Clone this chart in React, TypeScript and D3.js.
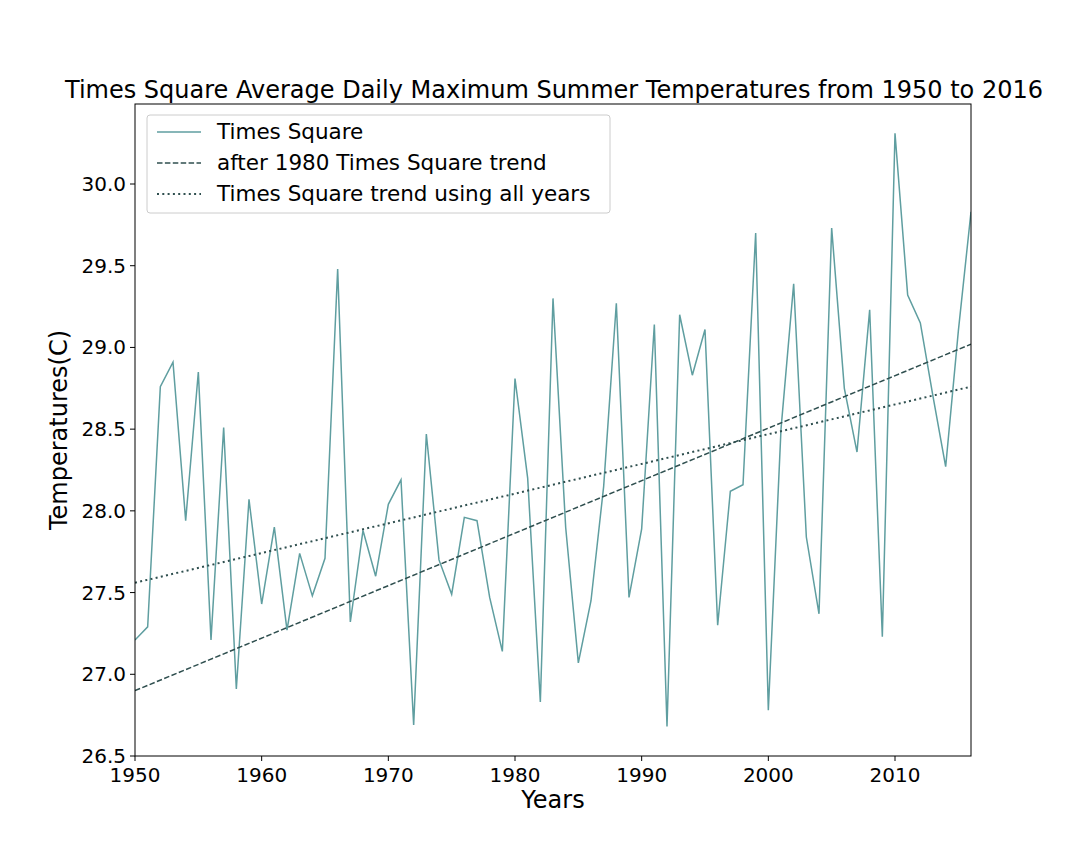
import React from "react";
import * as d3 from "d3";

const years = d3.range(1950, 2017);
const temps = [27.21,27.29,28.76,28.91,27.94,28.85,27.21,28.51,26.91,28.07,27.43,27.90,27.27,27.74,27.48,27.71,29.48,27.32,27.88,27.60,28.04,28.19,26.69,28.47,27.70,27.49,27.96,27.94,27.47,27.14,28.81,28.20,26.83,29.30,27.90,27.07,27.45,28.15,29.27,27.47,27.89,29.14,26.68,29.20,28.83,29.11,27.30,28.12,28.16,29.70,26.78,28.50,29.39,27.84,27.37,29.73,28.75,28.36,29.23,27.23,30.31,29.32,29.15,28.70,28.27,29.10,29.83];
const trendYears = [1950, 2016];
const trendAfter1980 = [26.90, 29.02];
const trendAll = [27.56, 28.76];
const xTicks = [1950, 1960, 1970, 1980, 1990, 2000, 2010];
const yTicks = [26.5, 27.0, 27.5, 28.0, 28.5, 29.0, 29.5, 30.0];

export default function App() {
  const L = 135, R = 971, T = 104, B = 756;
  const x = d3.scaleLinear().domain([1950, 2016]).range([L, R]);
  const y = d3.scaleLinear().domain([26.5, 30.0]).range([B, 184]);
  const line = d3.line<number>().x((_, i) => x(years[i])).y(d => y(d));
  const tline = (vals: number[]) => `M${x(trendYears[0])},${y(vals[0])}L${x(trendYears[1])},${y(vals[1])}`;
  const font = "DejaVu Sans, sans-serif";
  return (
    <svg width={1080} height={864} style={{ position: "absolute", left: 0, top: 0, background: "#fff" }} fontFamily={font}>
      <rect width={1080} height={864} fill="#fff" />
      <defs><clipPath id="c"><rect x={L} y={T} width={R - L} height={B - T} /></clipPath></defs>
      <g clipPath="url(#c)">
        <path d={line(temps)!} fill="none" stroke="#5f9ea0" strokeWidth={1.5} />
        <path d={tline(trendAfter1980)} fill="none" stroke="#2f4f4f" strokeWidth={1.5} strokeDasharray="5.5,2.4" />
        <path d={tline(trendAll)} fill="none" stroke="#2f4f4f" strokeWidth={2} strokeDasharray="2,3.3" />
      </g>
      <rect x={L} y={T} width={R - L} height={B - T} fill="none" stroke="#000" strokeWidth={1} />
      {xTicks.map(t => (
        <g key={t}>
          <line x1={x(t)} x2={x(t)} y1={B} y2={B + 5} stroke="#000" />
          <text x={x(t)} y={B + 26} fontSize={20} textAnchor="middle">{t}</text>
        </g>
      ))}
      {yTicks.map(t => (
        <g key={t}>
          <line x1={L - 5} x2={L} y1={y(t)} y2={y(t)} stroke="#000" />
          <text x={L - 9} y={y(t) + 7} fontSize={20} textAnchor="end">{t.toFixed(1)}</text>
        </g>
      ))}
      <text x={554} y={98} fontSize={24} textAnchor="middle">Times Square Average Daily Maximum Summer Temperatures from 1950 to 2016</text>
      <text x={(L + R) / 2} y={808} fontSize={24} textAnchor="middle">Years</text>
      <text transform={`translate(67,${(T + B) / 2}) rotate(-90)`} fontSize={24} textAnchor="middle">Temperatures(C)</text>
      <rect x={147} y={115} width={463} height={98} rx={3} fill="#fff" fillOpacity={0.8} stroke="#ccc" />
      {[
        { label: "Times Square", color: "#5f9ea0", dash: "", w: 1.5 },
        { label: "after 1980 Times Square trend", color: "#2f4f4f", dash: "5.5,2.4", w: 1.5 },
        { label: "Times Square trend using all years", color: "#2f4f4f", dash: "2,3.3", w: 2 },
      ].map((d, i) => (
        <g key={d.label} transform={`translate(0,${132 + i * 31})`}>
          <line x1={157} x2={201} y1={0} y2={0} stroke={d.color} strokeWidth={d.w} strokeDasharray={d.dash} />
          <text x={217} y={7} fontSize={21.5}>{d.label}</text>
        </g>
      ))}
    </svg>
  );
}
